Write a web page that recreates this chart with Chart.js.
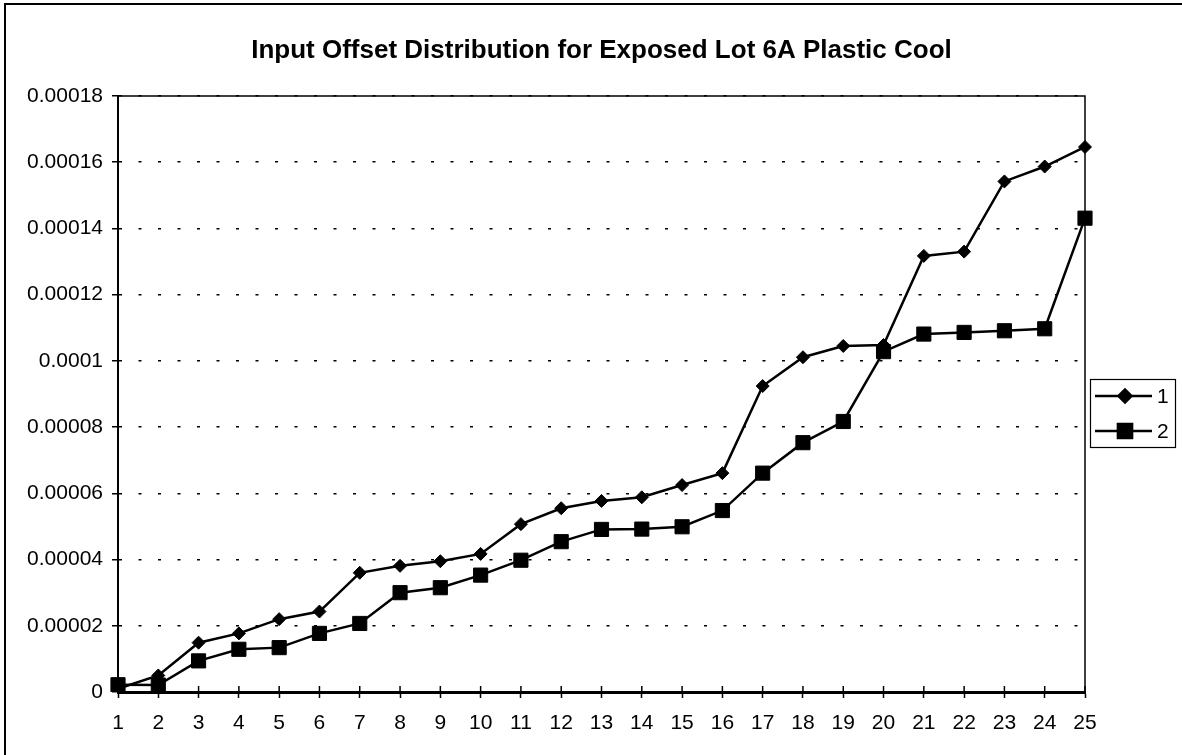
<!DOCTYPE html>
<html>
<head>
<meta charset="utf-8">
<script src="https://cdn.jsdelivr.net/npm/chart.js@4"></script>
<style>
html,body{margin:0;padding:0;background:#fff;overflow:hidden;}
#wrap{position:absolute;left:0;top:0;width:1182px;height:755px;}
</style>
</head>
<body>
<div id="wrap"><canvas id="c" width="1182" height="755"></canvas></div>
<script>
const categories = ['1','2','3','4','5','6','7','8','9','10','11','12','13','14','15','16','17','18','19','20','21','22','23','24','25'];
const series1 = [0.000001,0.000005,0.0000149,0.0000177,0.000022,0.0000243,0.000036,0.0000381,0.0000395,0.0000417,0.0000507,0.0000555,0.0000577,0.0000588,0.0000625,0.0000661,0.0000924,0.0001011,0.0001045,0.0001048,0.0001317,0.000133,0.0001542,0.0001587,0.0001646];
const series2 = [0.0000022,0.0000021,0.0000094,0.0000129,0.0000134,0.0000177,0.0000207,0.00003,0.0000315,0.0000353,0.0000398,0.0000454,0.0000491,0.0000492,0.0000499,0.0000548,0.0000661,0.0000753,0.0000817,0.0001028,0.0001081,0.0001086,0.0001091,0.0001097,0.0001431];
const seriesNames = ['1','2'];
const yTickLabels = ['0','0.00002','0.00004','0.00006','0.00008','0.0001','0.00012','0.00014','0.00016','0.00018'];
const titleText = 'Input Offset Distribution for Exposed Lot 6A Plastic Cool';

const FONT = "'Liberation Sans', Arial, Helvetica, sans-serif";

const framePlugin = {
  id: 'frame',
  beforeDraw(chart) {
    const ctx = chart.ctx;
    ctx.save();
    ctx.strokeStyle = '#000';
    ctx.lineWidth = 2;
    ctx.beginPath();
    ctx.moveTo(5, 760); ctx.lineTo(5, 4); ctx.lineTo(1190, 4);
    ctx.stroke();
    ctx.restore();
  },
  afterDatasetsDraw(chart) {
    const ctx = chart.ctx, a = chart.chartArea;
    ctx.save();
    ctx.strokeStyle = '#000';
    ctx.lineWidth = 1.5;
    ctx.beginPath();
    ctx.moveTo(a.left, a.top); ctx.lineTo(a.right, a.top); ctx.lineTo(a.right, a.bottom);
    ctx.stroke();
    // x tick marks crossing inside the axis
    const xs = chart.scales.x;
    ctx.lineWidth = 1.5;
    ctx.beginPath();
    xs.ticks.forEach((t, i) => {
      const px = xs.getPixelForTick(i);
      ctx.moveTo(px, a.bottom); ctx.lineTo(px, a.bottom - 6);
    });
    ctx.stroke();
    // legend
    const lx = 1090, ly = 379, lw = 85, lh = 68;
    ctx.fillStyle = '#fff';
    ctx.fillRect(lx, ly, lw, lh);
    ctx.lineWidth = 1.2;
    ctx.strokeRect(lx + 0.5, ly + 0.5, lw, lh);
    chart.data.datasets.forEach((ds, i) => {
      const y = ly + 17 + i * 35;
      ctx.lineWidth = 2.5;
      ctx.beginPath();
      ctx.moveTo(lx + 5, y); ctx.lineTo(lx + 62, y);
      ctx.stroke();
      ctx.fillStyle = '#000';
      Chart.helpers.drawPoint(ctx, {pointStyle: ds.pointStyle, radius: ds.pointRadius, borderWidth: 1, rotation: 0}, lx + 35, y);
      ctx.fill();
      ctx.font = '21px ' + FONT;
      ctx.textBaseline = 'middle';
      ctx.textAlign = 'left';
      ctx.fillText(ds.label, lx + 67, y + 1);
    });
    ctx.restore();
  }
};

new Chart(document.getElementById('c'), {
  type: 'line',
  data: {
    labels: categories,
    datasets: [
      {label: seriesNames[0], data: series1, borderColor: '#000', backgroundColor: '#000', borderWidth: 2.5,
       pointStyle: 'rectRot', pointRadius: 6.5, pointBorderWidth: 1, pointBackgroundColor: '#000', pointBorderColor: '#000', tension: 0},
      {label: seriesNames[1], data: series2, borderColor: '#000', backgroundColor: '#000', borderWidth: 2.5,
       pointStyle: 'rect', pointRadius: 10, pointBorderWidth: 1, pointBackgroundColor: '#000', pointBorderColor: '#000', tension: 0}
    ]
  },
  options: {
    responsive: false,
    animation: false,
    devicePixelRatio: 1,
    layout: {padding: {left: 0, right: 97, top: 0, bottom: 0}},
    plugins: {
      legend: {display: false},
      tooltip: {enabled: false},
      title: {
        display: true, text: titleText, fullSize: false, color: '#000',
        font: {family: FONT, size: 26, weight: 'bold'},
        padding: {top: 35, bottom: 29.8}
      }
    },
    scales: {
      x: {
        type: 'category',
        offset: false,
        grid: {display: true, drawOnChartArea: false, drawTicks: true, tickLength: 6, tickColor: '#000', tickWidth: 1.5},
        border: {display: true, color: '#000', width: 3},
        ticks: {color: '#000', font: {family: FONT, size: 21}, padding: 13, maxRotation: 0, autoSkip: false},
        afterFit(s) { s.height = 63; }
      },
      y: {
        min: 0, max: 0.00018,
        grid: {display: true, drawOnChartArea: true, color: '#000', lineWidth: 1.5,
               drawTicks: true, tickLength: 6, tickColor: '#000', tickWidth: 1.5, tickBorderDash: []},
        border: {display: true, color: '#000', width: 2, dash: [3, 16.5]},
        ticks: {
          color: '#000', font: {family: FONT, size: 21}, padding: 9, stepSize: 0.00002,
          callback: (v, i) => yTickLabels[i]
        },
        afterFit(s) { s.width = 118; }
      }
    }
  },
  plugins: [framePlugin]
});
</script>
</body>
</html>
